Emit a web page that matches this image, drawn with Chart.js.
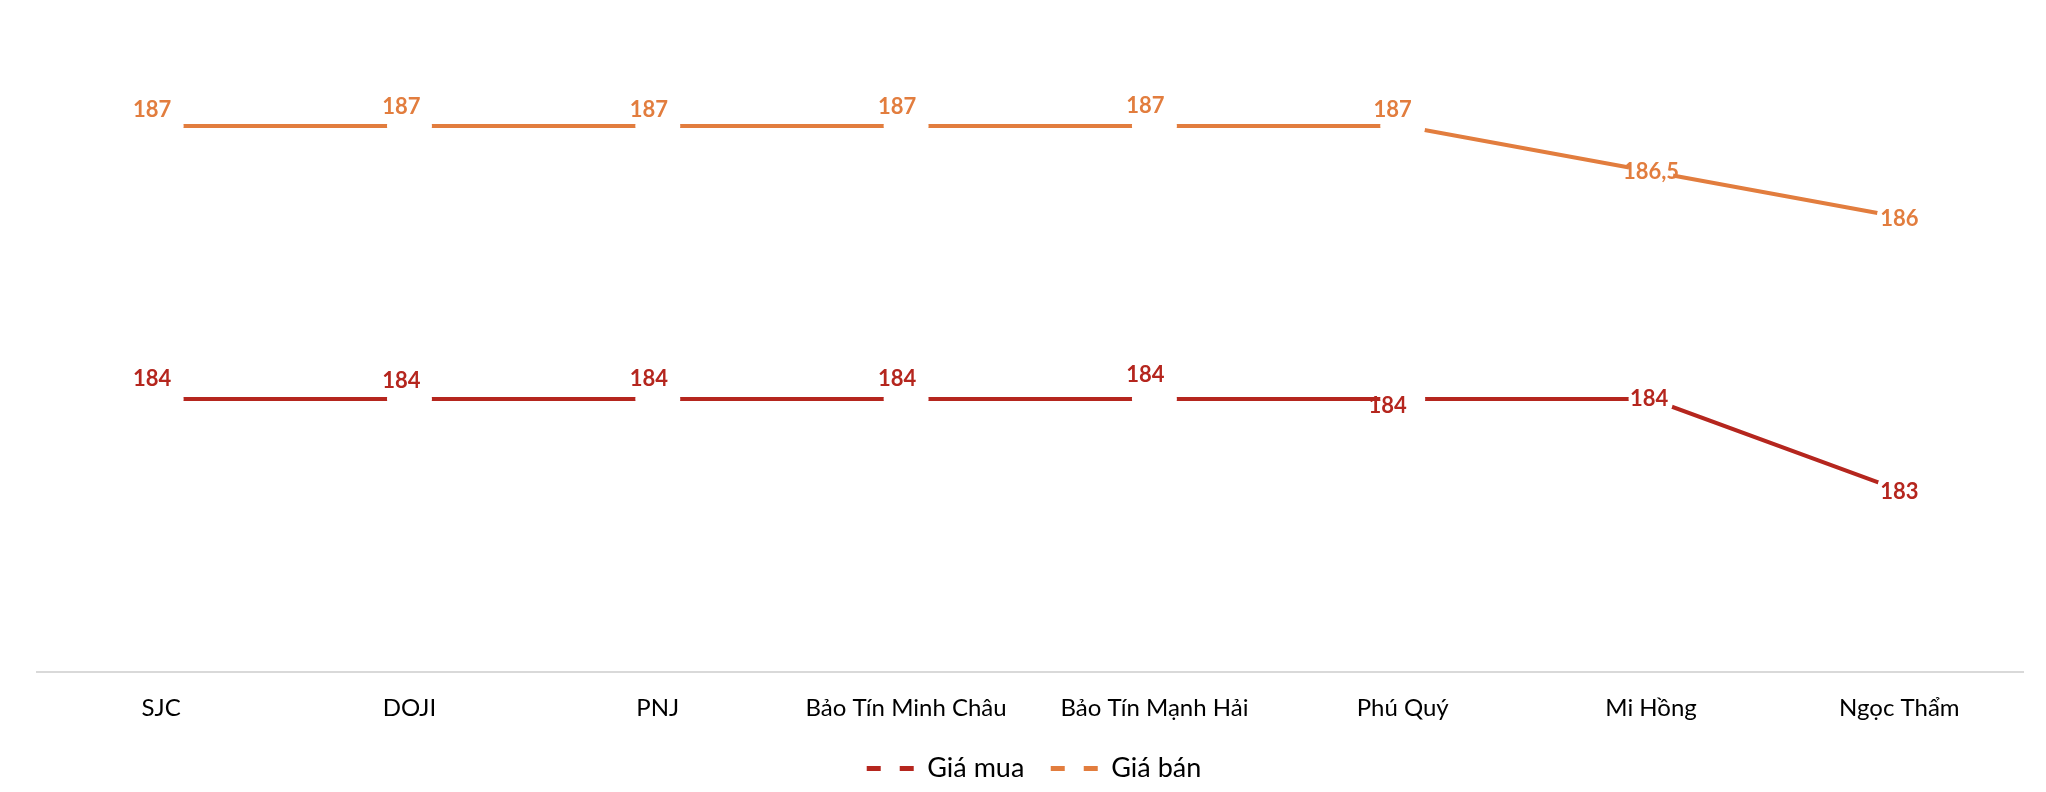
<!DOCTYPE html>
<html>
<head>
<meta charset="utf-8">
<script src="https://cdn.jsdelivr.net/npm/chart.js@4/dist/chart.umd.min.js"></script>
<style>
  html, body { margin: 0; padding: 0; background: #fff; }
  #wrap { width: 2046px; height: 792px; }
</style>
</head>
<body>
<div id="wrap"><canvas id="giaVang"></canvas></div>
<script>
// Dữ liệu
const cuaHang = ['SJC', 'DOJI', 'PNJ', 'Bảo Tín Minh Châu', 'Bảo Tín Mạnh Hải', 'Phú Quý', 'Mi Hồng', 'Ngọc Thẩm'];
const giaMua = [184, 184, 184, 184, 184, 184, 184, 183];
const giaBan = [187, 187, 187, 187, 187, 187, 186.5, 186];

const mauMua = '#B5261E';
const mauBan = '#E27D3E';

// vị trí nhãn so với điểm (px)
const lechNhan = [
  [[-9, -20], [-8, -18], [-9, -20], [-9, -20], [-9, -24], [-15, 7], [-2, 0], [0, 2]],
  [[-9, -16], [-8, -19], [-9, -16], [-9, -19], [-9, -20], [-10, -16], [0, 0], [0, 2]]
];

// Nhãn dữ liệu
const nhanDuLieu = {
  id: 'nhanDuLieu',
  afterDatasetsDraw(chart) {
    const ctx = chart.ctx;
    ctx.save();
    ctx.font = 'bold 22px Lato';
    ctx.textAlign = 'center';
    ctx.textBaseline = 'middle';
    chart.data.datasets.forEach((ds, i) => {
      const meta = chart.getDatasetMeta(i);
      ctx.fillStyle = ds.borderColor;
      meta.data.forEach((pt, j) => {
        const [dx, dy] = lechNhan[i][j];
        ctx.fillText(String(ds.data[j]).replace('.', ','), pt.x + dx, pt.y + dy);
      });
    });
    ctx.restore();
  }
};

function duong(label, data, color) {
  return {
    label: label,
    data: data,
    borderColor: color,
    borderWidth: 4,
    tension: 0,
    pointStyle: 'circle',
    pointRadius: 22.5,
    pointHoverRadius: 22.5,
    pointBackgroundColor: '#fff',
    pointBorderWidth: 0
  };
}

new Chart(document.getElementById('giaVang'), {
  type: 'line',
  data: {
    labels: cuaHang,
    datasets: [duong('Giá mua', giaMua, mauMua), duong('Giá bán', giaBan, mauBan)]
  },
  options: {
    responsive: true,
    maintainAspectRatio: false,
    animation: false,
    events: [],
    layout: { padding: { left: 37, right: 15, top: 35, bottom: 0 } },
    scales: {
      x: {
        offset: true,
        grid: { display: false, drawTicks: false },
        border: { display: true, color: '#D9D9D9', width: 2 },
        ticks: { color: '#000', padding: 22, font: { family: 'Lato', size: 24 } },
        afterFit(s) { s.height += 4; }
      },
      y: { display: false, min: 181, max: 188 }
    },
    plugins: {
      tooltip: { enabled: false },
      legend: {
        position: 'bottom',
        labels: {
          color: '#000',
          font: { family: 'Lato', size: 27 },
          usePointStyle: true,
          pointStyleWidth: 47,
          boxHeight: 10,
          padding: 6,
          generateLabels(chart) {
            return chart.data.datasets.map((ds, i) => ({
              // khoảng cách giữa hai mục chú thích
              text: i === 0 ? ds.label + '\u2002 ' : ds.label,
              strokeStyle: ds.borderColor,
              fillStyle: ds.borderColor,
              lineWidth: 5,
              lineDash: [14, 19],
              pointStyle: 'line',
              datasetIndex: i
            }));
          }
        }
      }
    }
  },
  plugins: [nhanDuLieu]
});
</script>
</body>
</html>
